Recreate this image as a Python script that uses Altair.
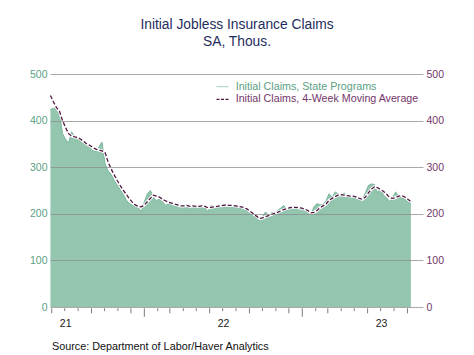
import altair as alt
import pandas as pd

# ---- data ----
claims = [424, 426, 428, 415, 372, 360, 352, 376, 365, 364,
          355, 357, 350, 343, 335, 334, 343, 354, 308, 292,
          285, 272, 262, 252, 242, 230, 222, 219, 216, 213,
          204, 226, 243, 250, 236, 228, 232, 226, 218, 222,
          224, 216, 216, 215, 218, 220, 211, 219, 213, 217,
          219, 213, 204, 218, 216, 216, 218, 219, 220, 216,
          218, 217, 215, 213, 212, 206, 202, 197, 191, 186,
          194, 204, 197, 203, 202, 207, 212, 218, 211, 215,
          214, 212, 211, 211, 209, 204, 198, 215, 222, 219,
          220, 228, 243, 235, 247, 242, 238, 245, 238, 240,
          236, 232, 231, 232, 245, 261, 264, 263, 245, 254,
          240, 234, 226, 235, 247, 236, 234, 232, 226, 222]
ma4 = [454, 440, 428, 420, 400, 385, 372, 367, 365, 364,
       360, 355, 350, 347, 342, 339, 337, 335, 332, 312,
       297, 284, 272, 261, 251, 242, 233, 225, 219, 216,
       215, 219, 226, 233, 240, 238, 236, 231, 228, 225,
       223, 221, 219, 217, 217, 218, 216, 217, 216, 216,
       217, 216, 213, 214, 215, 216, 217, 218, 219, 218,
       218, 217, 216, 215, 213, 210, 205, 200, 195, 190,
       191, 194, 196, 199, 201, 203, 206, 209, 211, 213,
       214, 214, 213, 212, 210, 207, 202, 203, 207, 213,
       217, 221, 229, 233, 237, 240, 241, 240, 239, 238,
       238, 236, 233, 231, 236, 245, 253, 258, 256, 252,
       248, 242, 235, 233, 235, 238, 239, 236, 231, 226]
weeks = pd.date_range("2021-05-29", periods=len(claims), freq="7D")

y_ticks = [0, 100, 200, 300, 400, 500]
year_label_dates = [alt.DateTime(year=2021, month=7, date=2),
                    alt.DateTime(year=2022, month=7, date=2),
                    alt.DateTime(year=2023, month=7, date=2)]
tick_months = pd.date_range("2021-06-01", "2023-09-01", freq="MS")

title_lines = ["Initial Jobless Insurance Claims", "SA, Thous."]
legend_labels = ["Initial Claims, State Programs",
                 "Initial Claims, 4-Week Moving Average"]
source_text = "Source:  Department of Labor/Haver Analytics"

# ---- styling ----
FONT = "Liberation Sans"
W, H = 373, 233
GREEN_FILL = "#93c5af"
GREEN_EDGE = "#78b59a"
GREEN_TXT = "#5a9f84"
MAROON = "#4e1740"
MAROON_TXT = "#74366a"

df = pd.DataFrame({"week": weeks, "claims": claims, "ma": ma4})
kinds = []
for m in tick_months:
    if m.month == 1:
        kinds.append("year")
    elif m.month in (3, 6, 9, 12):
        kinds.append("quarter")
    else:
        kinds.append("month")
ticks_df = pd.DataFrame({"d": tick_months, "kind": kinds})

xscale = alt.Scale(domain=[alt.DateTime(year=2021, month=5, date=28),
                           alt.DateTime(year=2023, month=10, date=7)])
yscale = alt.Scale(domain=[0, 500])

x_axis = alt.Axis(values=year_label_dates, format="%y", ticks=False,
                  domain=False, grid=False, labelPadding=11, labelFontSize=10.5,
                  labelColor="#222222", labelFont=FONT, title=None,
                  labelFlush=False)
x_enc = alt.X("week:T", scale=xscale, axis=x_axis)

yl_axis = alt.Axis(values=y_ticks, orient="left", grid=True,
                   gridColor="#8c8c8c", gridOpacity=0.75, gridWidth=1,
                   ticks=False, domain=False, labelColor=GREEN_TXT,
                   labelFontSize=10.5, labelFont=FONT, labelPadding=3,
                   title=None, zindex=1, labelFlush=False)
yr_axis = alt.Axis(values=y_ticks, orient="right", grid=False, ticks=False,
                   domain=False, labelColor=MAROON_TXT, labelFontSize=10.5,
                   labelFont=FONT, labelPadding=3, title=None,
                   labelFlush=False)

area = alt.Chart(df).mark_area(
    color=GREEN_FILL, opacity=1, fillOpacity=1,
    line={"color": GREEN_EDGE, "strokeWidth": 1}
).encode(x=x_enc, y=alt.Y("claims:Q", scale=yscale, axis=yl_axis))

halo = alt.Chart(df).mark_line(color="white", strokeWidth=3).encode(
    x=x_enc, y=alt.Y("ma:Q", scale=yscale, axis=None))

ma_line = alt.Chart(df).mark_line(
    color=MAROON, strokeWidth=1.3, strokeDash=[4, 2]
).encode(x=x_enc, y=alt.Y("ma:Q", scale=yscale, axis=yr_axis))


def tick_layer(kind, length):
    return alt.Chart(ticks_df).transform_filter(
        alt.datum.kind == kind
    ).mark_rule(color="#7a7a7a", strokeWidth=1).encode(
        x=alt.X("d:T", scale=xscale, axis=x_axis),
        y=alt.value(H + 1.3), y2=alt.value(H + 1.3 + length))


ticks = [tick_layer("month", 2.8), tick_layer("quarter", 5), tick_layer("year", 8.5)]


def text_layer(txt, x, y, size, color, align="left"):
    return alt.Chart(pd.DataFrame({"t": [txt]})).mark_text(
        align=align, baseline="middle", fontSize=size, color=color, font=FONT
    ).encode(text="t:N", x=alt.value(x), y=alt.value(y))


one = pd.DataFrame({"k": [0]})
leg_sym1 = alt.Chart(one).mark_rule(color="#a8d2c0", strokeWidth=1).encode(
    x=alt.value(166.5), x2=alt.value(178.5), y=alt.value(12.7))
leg_sym2 = alt.Chart(one).mark_rule(color=MAROON, strokeWidth=1.3,
                                    strokeDash=[3, 1.5]).encode(
    x=alt.value(166.5), x2=alt.value(178.5), y=alt.value(25.3))

layers = [area, halo, ma_line] + ticks + [
    leg_sym1, leg_sym2,
    text_layer(legend_labels[0], 185.7, 12.7, 10.7, GREEN_TXT),
    text_layer(legend_labels[1], 185.7, 25.3, 10.7, MAROON_TXT),
    text_layer(title_lines[0], 187, -49, 13.8, "#1f2d5e", "center"),
    text_layer(title_lines[1], 187, -32, 13.8, "#1f2d5e", "center"),
    text_layer(source_text, 2, 273, 10.8, "#111111"),
]

chart = alt.layer(*layers).resolve_scale(y="independent").properties(
    width=W, height=H,
    autosize=alt.AutoSizeParams(type="none"),
    padding={"left": 50, "top": 74, "right": 51, "bottom": 48},
).configure_view(strokeWidth=0)

chart.save("out.html", embed_options={"renderer": "svg", "actions": False})
